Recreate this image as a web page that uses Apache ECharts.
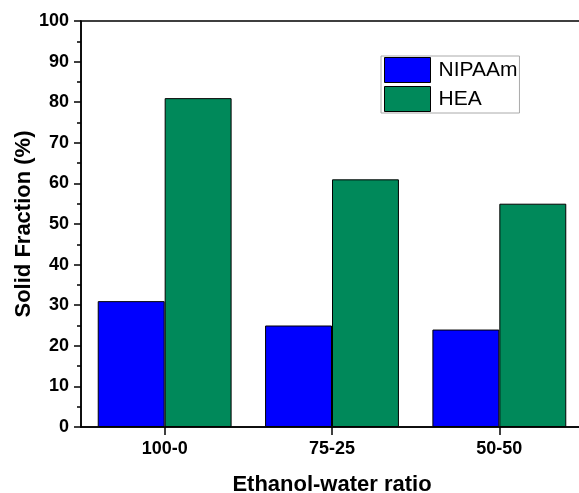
<!DOCTYPE html>
<html><head><meta charset="utf-8">
<script src="https://cdn.jsdelivr.net/npm/echarts@6/dist/echarts.min.js"></script>
<style>html,body{margin:0;padding:0;background:#fff}#c{width:579px;height:493px}</style>
</head><body><div id="c"></div>
<script>
const categories = ['100-0', '75-25', '50-50'];
const nipaam = [31, 25, 24];
const hea = [81, 61, 55];
const yTicks = [0, 10, 20, 30, 40, 50, 60, 70, 80, 90, 100];

const chart = echarts.init(document.getElementById('c'), null, {renderer: 'canvas'});
const font = 'Liberation Sans, Arial, sans-serif';
chart.setOption({
  animation: false,
  textStyle: {fontFamily: font},
  grid: {left: 81, top: 21, width: 502, height: 406, outerBoundsMode: 'none', containLabel: false,
         show: true, borderColor: '#000', borderWidth: 1.5, backgroundColor: 'transparent'},
  legend: {
    orient: 'vertical', left: 381, top: 56,
    data: ['NIPAAm', 'HEA'],
    itemWidth: 46, itemHeight: 25, itemGap: 3,
    padding: [1, 2, 1, 3],
    borderColor: '#aaa', borderWidth: 1,
    textStyle: {fontSize: 21, color: '#000', fontFamily: font, padding: [0, 0, 0, 3]},
    icon: 'rect',
    itemStyle: {borderColor: '#000', borderWidth: 1}
  },
  xAxis: {
    type: 'category', data: categories,
    name: 'Ethanol-water ratio', nameLocation: 'middle', nameGap: 47,
    nameTextStyle: {fontSize: 22, fontWeight: 'bold', color: '#000', fontFamily: font},
    axisLine: {lineStyle: {color: '#000', width: 1.5}},
    axisTick: {show: true, alignWithLabel: true, length: 8, inside: false, lineStyle: {color: '#000', width: 1.5}},
    axisLabel: {fontSize: 18, fontWeight: 'bold', color: '#000', margin: 13, fontFamily: font}
  },
  yAxis: {
    type: 'value', min: 0, max: 100, interval: 10,
    name: 'Solid Fraction (%)', nameLocation: 'middle', nameGap: 46, nameRotate: 90,
    nameMoveOverlap: false,
    nameTextStyle: {fontSize: 22, fontWeight: 'bold', color: '#000', fontFamily: font},
    axisLine: {show: true, lineStyle: {color: '#000', width: 1.5}},
    axisTick: {show: true, length: 7, lineStyle: {color: '#000', width: 1.5}},
    minorTick: {show: true, splitNumber: 2, length: 4, lineStyle: {color: '#000', width: 1.5}},
    splitLine: {show: false},
    axisLabel: {fontSize: 18, fontWeight: 'bold', color: '#000', margin: 12, fontFamily: font,
      formatter: v => yTicks.includes(v) ? String(v) : ''}
  },
  series: [
    {name: 'NIPAAm', type: 'bar', data: nipaam, barGap: '0%', barCategoryGap: '20%',
     itemStyle: {color: '#0000ff', borderColor: '#000', borderWidth: 1}},
    {name: 'HEA', type: 'bar', data: hea, barGap: '0%', barCategoryGap: '20%',
     itemStyle: {color: '#00895a', borderColor: '#000', borderWidth: 1}}
  ]
});
</script></body></html>
